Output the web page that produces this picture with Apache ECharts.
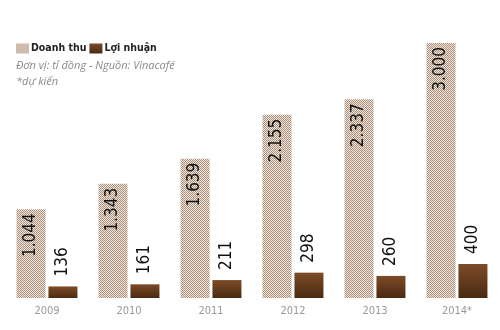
<!DOCTYPE html>
<html>
<head>
<meta charset="utf-8">
<script src="https://cdn.jsdelivr.net/npm/echarts@6/dist/echarts.min.js"></script>
<style>html,body{margin:0;padding:0;background:#fff}#c{width:500px;height:330px}</style>
</head>
<body>
<div id="c"></div>
<script>
const categories = ['2009', '2010', '2011', '2012', '2013', '2014*'];
const doanhThu = [1044, 1343, 1639, 2155, 2337, 3000];
const loiNhuan = [136, 161, 211, 298, 260, 400];
const seriesNames = ['Doanh thu', 'Lợi nhuận'];

const pc = document.createElement('canvas');
pc.width = 2; pc.height = 2;
const px = pc.getContext('2d');
px.fillStyle = '#f0e8df'; px.fillRect(0, 0, 2, 2);
px.fillStyle = '#ac8f7b'; px.fillRect(0, 0, 1, 1); px.fillRect(1, 1, 1, 1);
const pattern = { image: pc, repeat: 'repeat' };
const profitGrad = { type: 'linear', x: 0, y: 0, x2: 0, y2: 1,
  colorStops: [{ offset: 0, color: '#7c4b27' }, { offset: 1, color: '#4a2a12' }] };

function fmt(v) { return String(v).replace(/\B(?=(\d{3})+(?!\d))/g, '.'); }

const COND = "'DejaVu Sans Condensed', 'Liberation Sans Narrow', sans-serif";
const chart = echarts.init(document.getElementById('c'));
const labelFont = { fontFamily: COND, fontSize: 17, color: '#111' };
chart.setOption({
  animation: false,
  title: {
    text: 'Đơn vị: tỉ đồng - Nguồn: Vinacafé\n*dự kiến',
    left: 16, top: 58, padding: 0,
    textStyle: { fontFamily: 'Open Sans', fontStyle: 'italic', fontWeight: 'normal', fontSize: 11, color: '#8a8a8a', lineHeight: 16 }
  },
  legend: {
    left: 16, top: 43, padding: 0, itemWidth: 13, itemHeight: 10, itemGap: 3,
    icon: 'rect',
    textStyle: { fontFamily: COND, fontWeight: 'bold', fontSize: 10.5, color: '#222', padding: [0, 0, 0, -3] },
    data: [
      { name: seriesNames[0], itemStyle: { color: pattern } },
      { name: seriesNames[1], itemStyle: { color: profitGrad } }
    ]
  },
  grid: { left: 6, right: 2, top: 43, bottom: 32 },
  xAxis: {
    type: 'category', data: categories,
    axisLine: { show: false }, axisTick: { show: false },
    axisLabel: { color: '#999', fontFamily: COND, fontSize: 11, margin: 8 }
  },
  yAxis: { type: 'value', min: 0, max: 3000, show: false, splitLine: { show: false } },
  series: [
    {
      name: seriesNames[0], type: 'bar', data: doanhThu, barWidth: 29, barGap: '10%',
      itemStyle: { color: pattern },
      label: {
        show: true, position: 'insideTop', rotate: 90, align: 'right', verticalAlign: 'middle',
        distance: 4, formatter: p => fmt(p.value), ...labelFont
      }
    },
    {
      name: seriesNames[1], type: 'bar', data: loiNhuan, barWidth: 29,
      itemStyle: { color: profitGrad },
      label: {
        show: true, position: 'top', rotate: 90, align: 'left', verticalAlign: 'middle',
        distance: 10, formatter: p => fmt(p.value), ...labelFont
      }
    }
  ]
});
</script>
</body>
</html>
